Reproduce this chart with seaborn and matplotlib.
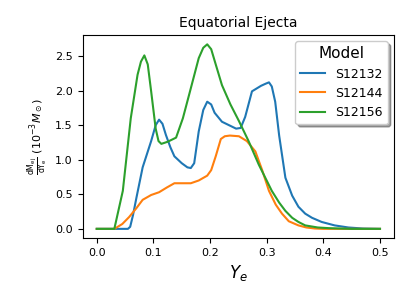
#importing libraries
import pandas as pd
import matplotlib
matplotlib.use("Agg")
import matplotlib.pyplot as plt
import seaborn as sns

#data
ye_s12132 = [0.0, 0.03, 0.055, 0.059, 0.064, 0.070, 0.081, 0.096, 0.104, 0.110, 0.116, 0.122,
             0.130, 0.137, 0.150, 0.160, 0.166, 0.172, 0.180, 0.188, 0.195, 0.202, 0.208,
             0.221, 0.236, 0.246, 0.254, 0.262, 0.274, 0.290, 0.298, 0.304, 0.309, 0.315,
             0.322, 0.333, 0.345, 0.356, 0.368, 0.380, 0.397, 0.420, 0.444, 0.47, 0.5]
dm_s12132 = [0.0, 0.0, 0.0, 0.03, 0.2, 0.45, 0.89, 1.27, 1.50, 1.58, 1.52, 1.36,
             1.18, 1.05, 0.95, 0.89, 0.88, 0.95, 1.41, 1.72, 1.84, 1.80, 1.68,
             1.55, 1.49, 1.45, 1.46, 1.62, 1.99, 2.07, 2.10, 2.12, 2.06, 1.84,
             1.35, 0.74, 0.48, 0.32, 0.22, 0.16, 0.10, 0.05, 0.02, 0.005, 0.0]

ye_s12144 = [0.0, 0.031, 0.045, 0.057, 0.070, 0.081, 0.096, 0.110, 0.124, 0.137, 0.150, 0.166,
             0.180, 0.195, 0.202, 0.210, 0.219, 0.226, 0.235, 0.251, 0.265, 0.280, 0.292,
             0.304, 0.316, 0.327, 0.339, 0.356, 0.370, 0.385, 0.4, 0.45, 0.5]
dm_s12144 = [0.0, 0.0, 0.07, 0.17, 0.30, 0.42, 0.49, 0.53, 0.60, 0.66, 0.66, 0.66,
             0.70, 0.77, 0.85, 1.05, 1.30, 1.34, 1.35, 1.34, 1.27, 1.12, 0.85,
             0.55, 0.35, 0.22, 0.11, 0.05, 0.02, 0.005, 0.0, 0.0, 0.0]

ye_s12156 = [0.0, 0.031, 0.046, 0.060, 0.072, 0.078, 0.084, 0.090, 0.096, 0.104, 0.109, 0.114,
             0.125, 0.140, 0.152, 0.163, 0.180, 0.188, 0.195, 0.202, 0.210, 0.221, 0.236,
             0.251, 0.268, 0.286, 0.309, 0.322, 0.333, 0.345, 0.356, 0.368, 0.39, 0.41,
             0.45, 0.5]
dm_s12156 = [0.0, 0.0, 0.55, 1.60, 2.23, 2.42, 2.51, 2.38, 1.99, 1.45, 1.27, 1.23,
             1.26, 1.32, 1.60, 1.94, 2.47, 2.62, 2.67, 2.60, 2.38, 2.08, 1.80,
             1.56, 1.27, 0.93, 0.55, 0.38, 0.26, 0.16, 0.10, 0.05, 0.02, 0.01,
             0.0, 0.0]

models = ["S12132", "S12144", "S12156"]

#building long table for seaborn
frames = []
for name, xs, ys in zip(models, [ye_s12132, ye_s12144, ye_s12156], [dm_s12132, dm_s12144, dm_s12156]):
    frames.append(pd.DataFrame({"Ye": xs, "dM": ys, "Model": name}))
df = pd.concat(frames, ignore_index=True)

#plotting
fig, ax = plt.subplots(figsize=(4.11, 3.08), dpi=100)
sns.lineplot(data=df, x="Ye", y="dM", hue="Model", hue_order=models,
             palette=["#1f77b4", "#ff7f0e", "#2ca02c"], linewidth=1.5, ax=ax, sort=False)
ax.set_title("Equatorial Ejecta", fontsize=10, pad=6)
ax.set_xlabel("$Y_e$", fontsize=12)
ax.set_ylabel(r"$\frac{\mathrm{dM_{ej}}}{\mathrm{dY_e}}\ (10^{-3} M_\odot)$", fontsize=8)
ax.set_xticks([0.0, 0.1, 0.2, 0.3, 0.4, 0.5])
ax.set_yticks([0.0, 0.5, 1.0, 1.5, 2.0, 2.5])
ax.tick_params(labelsize=8)
leg = ax.legend(title="Model", shadow=True, fontsize=9, title_fontsize=11, loc="upper right")
plt.subplots_adjust(left=0.201, right=0.959, top=0.886, bottom=0.227)
plt.savefig("out.png", dpi=100)
